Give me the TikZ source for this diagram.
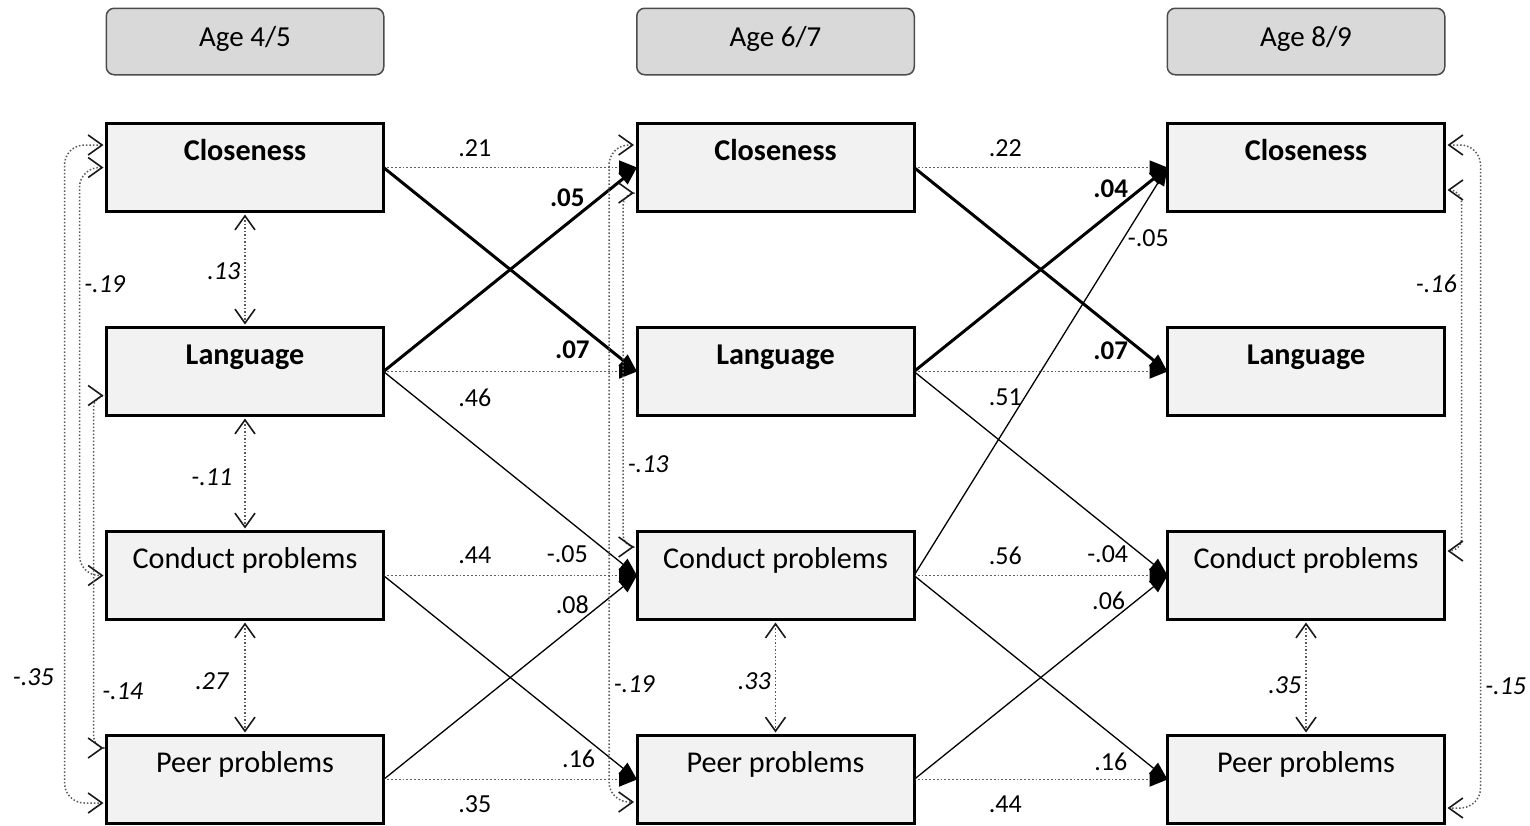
\documentclass[tikz,border=0pt]{standalone}
\usepackage{fontspec}
\setmainfont{Carlito}
\usetikzlibrary{positioning, arrows.meta}
\definecolor{boxfill}{HTML}{F2F2F2}
\definecolor{agefill}{HTML}{D9D9D9}
\tikzset{node distance=58pt and 126.75pt, % Gap between boxes (rows and columns)
var/.style={ % Sets the properties for each measured variable
draw, line width=1.5pt, fill=boxfill,
minimum width=138.5pt, minimum height=44pt,
inner sep=0pt, outer sep=0pt,
text height=10pt, text depth=17.5pt, % Pushes the name to the top of the box
font=\fontsize{15.1}{18}\selectfont},
wave/.style={ % Age headers
draw=black!70, line width=0.75pt, fill=agefill, rounded corners=4pt,
minimum width=138.75pt, minimum height=33.25pt, inner sep=0pt,
text height=9.5pt, text depth=4.5pt,
font=\fontsize{14.5}{17}\selectfont},
coef/.style={inner sep=2pt, font=\fontsize{13}{15}\selectfont}, % Path coefficients
bcoef/.style={coef, font=\fontsize{13.5}{15}\selectfont\bfseries},
rcoef/.style={coef, font=\fontsize{13}{15}\selectfont\itshape}, % Correlations
stable/.style={ % Autoregressive paths
draw=black!62, line width=0.9pt, densely dotted,
-{Triangle[length=9pt, width=7pt, color=black]}},
strongpath/.style={draw, line width=1.5pt, -{Triangle[length=9pt, width=7pt]}},
weakpath/.style={draw, line width=0.65pt, -{Triangle[length=9pt, width=7pt]}},
covar/.style={ % Two-headed dotted arrows for correlations
draw=black!65, line width=0.75pt, densely dotted, rounded corners=10pt,
shorten <=1.5pt, shorten >=1.5pt,
arrows={Straight Barb[length=7pt, width=10pt, line width=0.8pt, color=black!90]-Straight Barb[length=7pt, width=10pt, line width=0.8pt, color=black!90]}}}

\begin{document}
\begin{tikzpicture}[x=0.5pt, y=-0.5pt]
    \useasboundingbox (0,0) rectangle (1530,825);

    \node[var] (cl1) at (245,167.5) {\textbf{Closeness}};
    \node[var, below=of cl1] (la1) {\textbf{Language}};
    \node[var, below=of la1] (co1) {Conduct problems};
    \node[var, below=of co1] (pe1) {Peer problems};

    \node[var, right=of cl1] (cl2) {\textbf{Closeness}};
    \node[var, below=of cl2] (la2) {\textbf{Language}};
    \node[var, below=of la2] (co2) {Conduct problems};
    \node[var, below=of co2] (pe2) {Peer problems};

    \node[var, right=of cl2] (cl3) {\textbf{Closeness}};
    \node[var, below=of cl3] (la3) {\textbf{Language}};
    \node[var, below=of la3] (co3) {Conduct problems};
    \node[var, below=of co3] (pe3) {Peer problems};

    \node[wave, above=24pt of cl1] (hd1) {Age 4/5};
    \node[wave, above=24pt of cl2] (hd2) {Age 6/7};
    \node[wave, above=24pt of cl3] (hd3) {Age 8/9};

    \draw[stable] (cl1.east) -- (cl2.west) node[coef, pos=0.36, yshift=9.5pt] {.21};
    \draw[stable] (la1.east) -- (la2.west) node[coef, pos=0.36, yshift=-13pt] {.46};
    \draw[stable] (co1.east) -- (co2.west) node[coef, pos=0.36, yshift=10pt] {.44};
    \draw[stable] (pe1.east) -- (pe2.west) node[coef, pos=0.36, yshift=-12.5pt] {.35};
    \draw[stable] (cl2.east) -- (cl3.west) node[coef, pos=0.36, yshift=9.5pt] {.22};
    \draw[stable] (la2.east) -- (la3.west) node[coef, pos=0.36, yshift=-13pt] {.51};
    \draw[stable] (co2.east) -- (co3.west) node[coef, pos=0.36, yshift=10pt] {.56};
    \draw[stable] (pe2.east) -- (pe3.west) node[coef, pos=0.36, yshift=-12.5pt] {.44};

    \draw[strongpath] (la1.east) -- (cl2.west) node[bcoef, pos=0.725, yshift=13pt] {.05};
    \draw[strongpath] (cl1.east) -- (la2.west) node[bcoef, pos=0.745, yshift=-15pt] {.07};
    \draw[weakpath] (la1.east) -- (co2.west) node[coef, pos=0.725, yshift=-17.5pt] {-.05};
    \draw[weakpath] (pe1.east) -- (co2.west) node[coef, pos=0.745, yshift=11.5pt] {.08};
    \draw[weakpath] (co1.east) -- (pe2.west) node[coef, pos=0.77, yshift=-13pt] {.16};

    \draw[strongpath] (la2.east) -- (cl3.west) node[bcoef, pos=0.776, yshift=12pt] {.04};
    \draw[weakpath] (co2.east) -- (cl3.west) node[coef, pos=0.826, xshift=12.5pt] {-.05};
    \draw[strongpath] (cl2.east) -- (la3.west) node[bcoef, pos=0.776, yshift=-12.5pt] {.07};
    \draw[weakpath] (la2.east) -- (co3.west) node[coef, pos=0.764, yshift=-13.5pt] {-.04};
    \draw[weakpath] (pe2.east) -- (co3.west) node[coef, pos=0.768, yshift=11pt] {.06};
    \draw[weakpath] (co2.east) -- (pe3.west) node[coef, pos=0.776, yshift=-14pt] {.16};

    \draw[covar] (cl1) -- (la1) node[rcoef, midway, left, yshift=-1pt] {.13};
    \draw[covar] (la1) -- (co1) node[rcoef, midway, left, xshift=-4pt, yshift=-2pt] {-.11};
    \draw[covar] (co1) -- (pe1) node[rcoef, midway, left, xshift=-6pt, yshift=-2pt] {.27};
    \draw[covar] (co2) -- (pe2) node[rcoef, midway, left, yshift=-2pt] {.33};
    \draw[covar] (co3) -- (pe3) node[rcoef, midway, left, yshift=-4pt] {.35};

    \draw[covar] ([yshift=11.25pt]cl1.west) -| ([xshift=-21pt, yshift=-11.75pt]pe1.west) node[rcoef, pos=0.904, left, xshift=-3pt] {-.35} -- ([yshift=-11.75pt]pe1.west);
    \draw[covar] (cl1.west) -| ([xshift=-13.5pt]co1.west) node[rcoef, pos=0.643, right] {-.19} -- (co1.west);
    \draw[covar, rounded corners=6pt] ([yshift=-12pt]la1.west) -| ([xshift=-6.5pt, yshift=15.75pt]pe1.west) node[rcoef, pos=0.92, right, xshift=2pt] {-.14} -- ([yshift=15.75pt]pe1.west);

    \draw[covar] ([yshift=11.25pt]cl2.west) -| ([xshift=-14pt, yshift=-11.25pt]pe2.west) node[rcoef, pos=0.91, right] {-.19} -- ([yshift=-11.25pt]pe2.west);
    \draw[covar, rounded corners=6pt] ([yshift=-12.75pt]cl2.west) -| ([xshift=-7pt, yshift=14.25pt]co2.west) node[rcoef, pos=0.883, right] {-.13} -- ([yshift=14.25pt]co2.west);

    \draw[covar, rounded corners=6pt] ([yshift=-11.25pt]cl3.east) -| ([xshift=8.5pt, yshift=12.25pt]co3.east) node[rcoef, pos=0.63, left] {-.16} -- ([yshift=12.25pt]co3.east);
    \draw[covar] ([yshift=11.25pt]cl3.east) -| ([xshift=18pt, yshift=-14.25pt]pe3.east) node[rcoef, pos=0.908, right] {-.15} -- ([yshift=-14.25pt]pe3.east);

\end{tikzpicture}
\end{document}
